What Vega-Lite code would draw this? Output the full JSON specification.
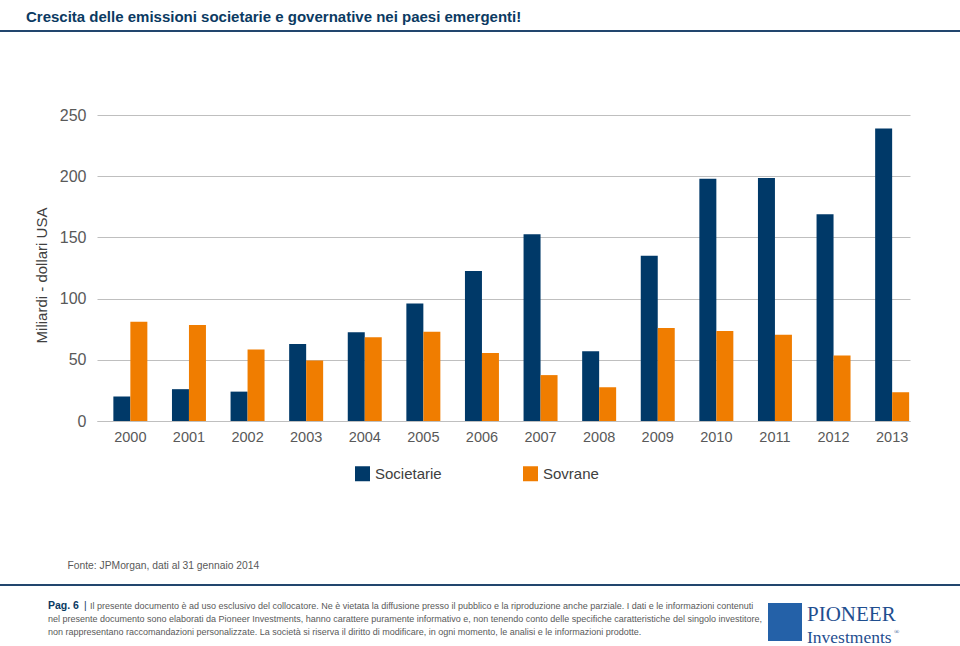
{
  "$schema": "https://vega.github.io/schema/vega-lite/v6.json",
  "width": 813,
  "height": 306,
  "autosize": {"type": "none"},
  "padding": {"left": 97, "top": 115, "right": 50, "bottom": 225},
  "background": "white",
  "config": {"view": {"stroke": null}, "font": "Liberation Sans"},
  "title": {
    "text": "Crescita delle emissioni societarie e governative nei paesi emergenti!",
    "anchor": "start",
    "frame": "bounds",
    "dx": 27,
    "offset": 5,
    "font": "Liberation Sans",
    "fontWeight": "bold",
    "fontSize": 15,
    "color": "#0B3A62"
  },
  "layer": [
    {
      "data": {
        "values": [
          {"anno": "2000", "serie": "Societarie", "valore": 20},
          {"anno": "2000", "serie": "Sovrane", "valore": 81},
          {"anno": "2001", "serie": "Societarie", "valore": 26},
          {"anno": "2001", "serie": "Sovrane", "valore": 78.5},
          {"anno": "2002", "serie": "Societarie", "valore": 24},
          {"anno": "2002", "serie": "Sovrane", "valore": 58.5},
          {"anno": "2003", "serie": "Societarie", "valore": 63},
          {"anno": "2003", "serie": "Sovrane", "valore": 49.5},
          {"anno": "2004", "serie": "Societarie", "valore": 72.5},
          {"anno": "2004", "serie": "Sovrane", "valore": 68.5},
          {"anno": "2005", "serie": "Societarie", "valore": 96},
          {"anno": "2005", "serie": "Sovrane", "valore": 73},
          {"anno": "2006", "serie": "Societarie", "valore": 122.5},
          {"anno": "2006", "serie": "Sovrane", "valore": 55.5},
          {"anno": "2007", "serie": "Societarie", "valore": 152.5},
          {"anno": "2007", "serie": "Sovrane", "valore": 37.5},
          {"anno": "2008", "serie": "Societarie", "valore": 57},
          {"anno": "2008", "serie": "Sovrane", "valore": 27.5},
          {"anno": "2009", "serie": "Societarie", "valore": 135},
          {"anno": "2009", "serie": "Sovrane", "valore": 76},
          {"anno": "2010", "serie": "Societarie", "valore": 198},
          {"anno": "2010", "serie": "Sovrane", "valore": 73.5},
          {"anno": "2011", "serie": "Societarie", "valore": 198.5},
          {"anno": "2011", "serie": "Sovrane", "valore": 70.5},
          {"anno": "2012", "serie": "Societarie", "valore": 169},
          {"anno": "2012", "serie": "Sovrane", "valore": 53.5},
          {"anno": "2013", "serie": "Societarie", "valore": 239},
          {"anno": "2013", "serie": "Sovrane", "valore": 23.5}
        ]
      },
      "mark": {"type": "bar"},
      "encoding": {
        "x": {
          "field": "anno",
          "type": "ordinal",
          "scale": {"paddingInner": 0.42, "paddingOuter": 0.147, "align": 0.95},
          "axis": {
            "title": "Fonte: JPMorgan, dati al 31 gennaio  2014",
            "titleX": -30,
            "titleY": 144,
            "titleAlign": "left",
            "titleBaseline": "middle",
            "titleFontSize": 10.3,
            "titleFontWeight": "normal",
            "titleColor": "#595959",
            "labelAngle": 0,
            "labelFontSize": 14.5,
            "labelColor": "#595959",
            "labelPadding": 9,
            "ticks": false,
            "tickSize": 0,
            "domainColor": "#BFBFBF",
            "domainWidth": 1
          }
        },
        "xOffset": {"field": "serie", "type": "nominal", "scale": {"paddingInner": 0, "paddingOuter": 0}},
        "y": {
          "field": "valore",
          "type": "quantitative",
          "scale": {"domain": [0, 250], "nice": false},
          "axis": {
            "title": "Miliardi - dollari USA",
            "titleFontSize": 15,
            "titleFontWeight": "normal",
            "titleColor": "#404040",
            "titlePadding": 10,
            "titleY": 160,
            "values": [0, 50, 100, 150, 200, 250],
            "labelFontSize": 16,
            "labelColor": "#595959",
            "labelPadding": 11,
            "domain": false,
            "ticks": false,
            "tickSize": 0,
            "gridColor": "#BFBFBF",
            "gridWidth": 1
          }
        },
        "color": {
          "field": "serie",
          "type": "nominal",
          "scale": {"domain": ["Societarie", "Sovrane"], "range": ["#003968", "#F07D00"]},
          "legend": {
            "title": null,
            "orient": "none",
            "legendX": 258,
            "legendY": 351,
            "direction": "horizontal",
            "symbolType": "square",
            "symbolSize": 225,
            "symbolStrokeWidth": 0,
            "labelFontSize": 15,
            "labelColor": "#404040",
            "labelOffset": 5,
            "columnPadding": 81,
            "padding": 0
          }
        }
      }
    },
    {
      "data": {"values": [{}]},
      "mark": {"type": "rule", "color": "#22466E", "strokeWidth": 2},
      "encoding": {"x": {"value": -97}, "x2": {"value": 863}, "y": {"value": -84}}
    },
    {
      "data": {"values": [{}]},
      "mark": {"type": "rule", "color": "#22466E", "strokeWidth": 2},
      "encoding": {"x": {"value": -97}, "x2": {"value": 863}, "y": {"value": 470}}
    },
    {
      "data": {"values": [{}]},
      "mark": {"type": "text", "align": "left", "baseline": "middle", "font": "Liberation Sans", "fontWeight": "bold", "fontSize": 10.5, "color": "#0B3A62", "text": "Pag. 6"},
      "encoding": {"x": {"value": -49}, "y": {"value": 491}}
    },
    {
      "data": {"values": [{}]},
      "mark": {"type": "text", "align": "left", "baseline": "middle", "font": "Liberation Sans", "fontSize": 10, "color": "#0B3A62", "text": "|"},
      "encoding": {"x": {"value": -13}, "y": {"value": 491}}
    },
    {
      "data": {"values": [{}]},
      "mark": {"type": "text", "align": "left", "baseline": "middle", "font": "Liberation Sans", "fontSize": 9, "color": "#595959", "text": "Il presente documento è ad uso esclusivo del collocatore. Ne è vietata la diffusione presso il pubblico e la riproduzione anche parziale. I dati e le informazioni contenuti"},
      "encoding": {"x": {"value": -7}, "y": {"value": 491}}
    },
    {
      "data": {"values": [{}]},
      "mark": {"type": "text", "align": "left", "baseline": "middle", "font": "Liberation Sans", "fontSize": 9, "color": "#595959", "text": "nel presente documento sono elaborati da Pioneer Investments, hanno carattere puramente informativo e, non tenendo conto delle specifiche caratteristiche del singolo investitore,"},
      "encoding": {"x": {"value": -49}, "y": {"value": 504}}
    },
    {
      "data": {"values": [{}]},
      "mark": {"type": "text", "align": "left", "baseline": "middle", "font": "Liberation Sans", "fontSize": 9, "color": "#595959", "text": "non rappresentano raccomandazioni personalizzate. La società si riserva il diritto di modificare, in ogni momento, le analisi e le informazioni prodotte."},
      "encoding": {"x": {"value": -49}, "y": {"value": 517}}
    },
    {
      "data": {"values": [{}]},
      "mark": {"type": "rect", "color": "#2461A8"},
      "encoding": {"x": {"value": 671}, "x2": {"value": 705}, "y": {"value": 488}, "y2": {"value": 526}}
    },
    {
      "data": {"values": [{}]},
      "mark": {"type": "text", "align": "left", "baseline": "alphabetic", "font": "Liberation Serif", "fontSize": 21, "color": "#1F4E8F", "text": "PIONEER"},
      "encoding": {"x": {"value": 710}, "y": {"value": 506}}
    },
    {
      "data": {"values": [{}]},
      "mark": {"type": "text", "align": "left", "baseline": "alphabetic", "font": "Liberation Serif", "fontSize": 17.5, "color": "#1F4E8F", "text": "Investments"},
      "encoding": {"x": {"value": 710}, "y": {"value": 528}}
    },
    {
      "data": {"values": [{}]},
      "mark": {"type": "text", "align": "left", "baseline": "alphabetic", "font": "Liberation Serif", "fontSize": 7, "color": "#1F4E8F", "text": "®"},
      "encoding": {"x": {"value": 797}, "y": {"value": 519}}
    }
  ]
}
